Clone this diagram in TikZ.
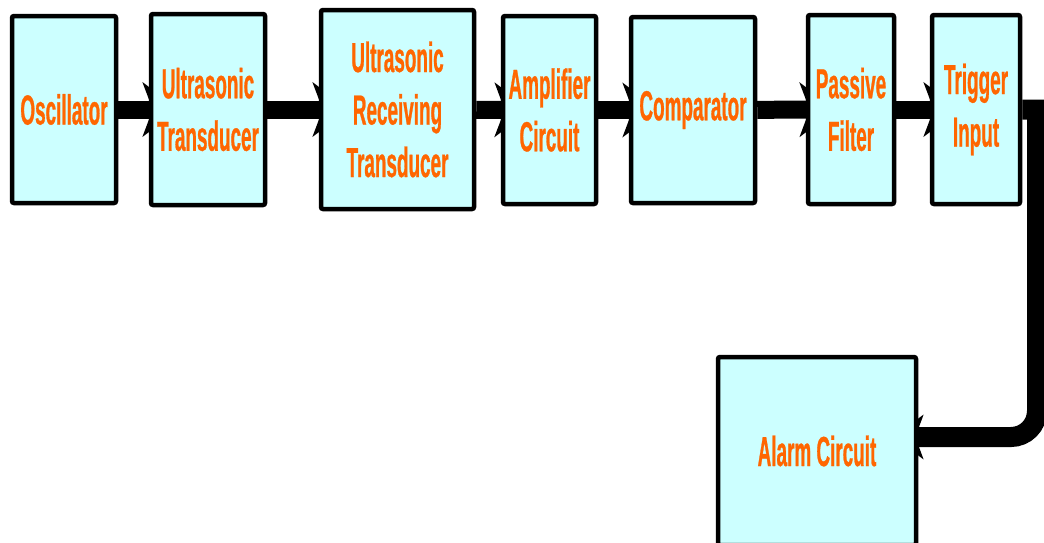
\documentclass[tikz,border=0pt]{standalone}
\usepackage{fontspec}
\setmainfont{Liberation Sans}[FakeStretch=0.45, BoldFeatures={FakeBold=0.6}]
\usetikzlibrary{arrows.meta}
\definecolor{boxfill}{HTML}{CCFFFF}
\definecolor{labelorange}{HTML}{FF6600}
\pgfdeclarelayer{bg}
\pgfsetlayers{bg,main}
\begin{document}
\begin{tikzpicture}[x=1pt,y=-1pt,
  block/.style={draw=black, line width=4.5pt, fill=boxfill, rounded corners=2pt,
    text=labelorange, font=\bfseries\fontsize{42}{52.5}\selectfont,
    align=center, inner sep=0pt},
  flow/.style={line width=18pt, -{Stealth[length=36pt,width=54pt,inset=10pt]},
    shorten >=-30pt},
  route/.style={line width=20pt, -{Stealth[length=30pt,width=44pt,inset=8pt]},
    shorten >=-25pt}]
\clip (0,0) rectangle (1044,542);
\useasboundingbox (0,0) rectangle (1044,542);

% signal chain
\node[block, minimum width=104pt, minimum height=187pt] (osc) at (64,109.5) {Oscillator};
\node[block, minimum width=114pt, minimum height=191pt] (utx) at (208,109.5) {Ultrasonic\\Transducer};
\node[block, minimum width=153pt, minimum height=199pt] (urx) at (397.5,109.5) {Ultrasonic\\Receiving\\Transducer};
\node[block, minimum width=93pt, minimum height=188pt] (amp) at (549.5,110) {Amplifier\\Circuit};
\node[block, minimum width=124pt, minimum height=186pt] (cmp) at (693,110) {Comparator};
\node[block, minimum width=86pt, minimum height=189pt] (flt) at (851,109.5) {Passive\\Filter};
\node[block, minimum width=88pt, minimum height=189pt] (trg) at (976,109.5) {Trigger\\Input};
\node[block, minimum width=198pt, minimum height=188pt] (alm) at (817,451) {Alarm Circuit};

% bend of the return line down the right edge
\coordinate (turn) at (1037,437);

\begin{pgfonlayer}{bg}
  \draw[flow] (osc) -- (utx);
  \draw[flow] (utx) -- (urx);
  \draw[flow] (urx) -- (amp);
  \draw[flow] (amp) -- (cmp);
  \draw[flow] (cmp) -- (flt);
  \draw[flow] (flt) -- (trg);
  \draw[route] (trg.east) -- (trg.east -| turn) [rounded corners=26pt] -- (turn) -- (turn -| alm.east);
\end{pgfonlayer}
\end{tikzpicture}
\end{document}
